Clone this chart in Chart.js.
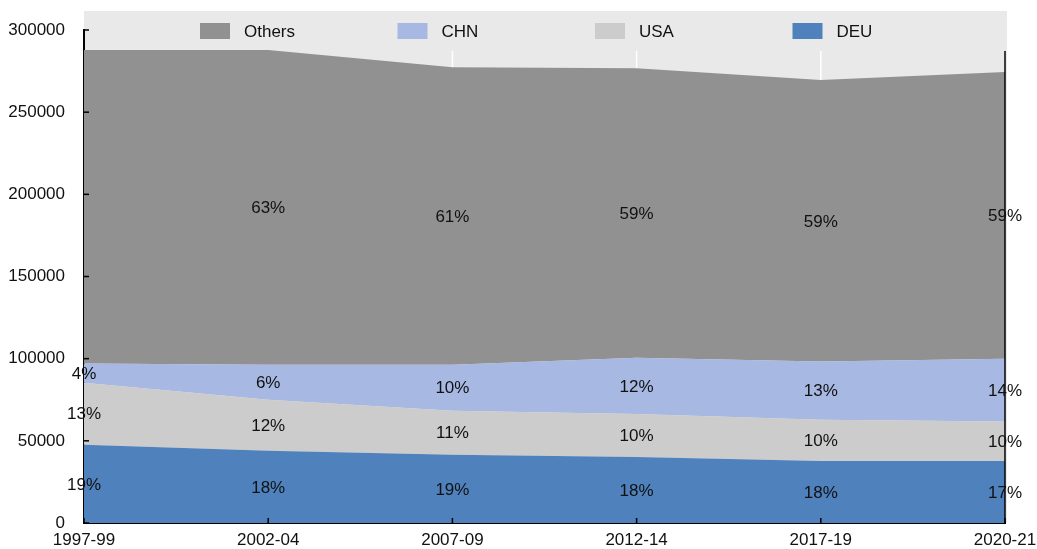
<!DOCTYPE html>
<html>
<head>
<meta charset="utf-8">
<script src="https://cdn.jsdelivr.net/npm/chart.js@4"></script>
<style>
  html, body { margin: 0; padding: 0; background: #fff; }
  #wrap { width: 1037px; height: 549px; }
</style>
</head>
<body>
<div id="wrap"><canvas id="areaChart"></canvas></div>
<script>
const periods = ['1997-99', '2002-04', '2007-09', '2012-14', '2017-19', '2020-21'];

// stacked volumes, bottom to top
const deu = [47600, 43900, 41500, 40200, 37800, 37800];
const usa = [37800, 31100, 26800, 26200, 25000, 24000];
const chn = [11600, 21300, 28000, 34100, 35400, 38200];
const others = [190800, 191500, 181100, 176200, 171300, 174400];

// shares printed inside each band (%)
const deuShare = [19, 18, 19, 18, 18, 17];
const usaShare = [13, 12, 11, 10, 10, 10];
const chnShare = [4, 6, 10, 12, 13, 14];
const othersShare = [null, 63, 61, 59, 59, 59];

const yTicks = [0, 50000, 100000, 150000, 200000, 250000, 300000];

const FONT = 'Arial, "Liberation Sans", sans-serif';
const FONT_SIZE = 17;

const series = [
  { label: 'DEU', data: deu, share: deuShare, color: '#4f81bd' },
  { label: 'USA', data: usa, share: usaShare, color: '#cccccc' },
  { label: 'CHN', data: chn, share: chnShare, color: '#a7b8e2' },
  { label: 'Others', data: others, share: othersShare, color: '#919191' }
];

// grey panel, white period lines, right frame and inward tick marks
const framePlugin = {
  id: 'frame',
  beforeDraw(chart) {
    const { ctx, chartArea: a, scales } = chart;
    ctx.save();
    ctx.fillStyle = '#e9e9e9';
    ctx.fillRect(a.left, 11, a.right - a.left + 2, a.bottom - 11);
    ctx.strokeStyle = '#ffffff';
    ctx.lineWidth = 1.5;
    scales.x.ticks.forEach((t, i) => {
      const x = scales.x.getPixelForTick(i);
      ctx.beginPath();
      ctx.moveTo(x, 51);
      ctx.lineTo(x, a.bottom);
      ctx.stroke();
    });
    ctx.restore();
  },
  afterDatasetsDraw(chart) {
    const { ctx, chartArea: a, scales } = chart;
    ctx.save();
    ctx.strokeStyle = '#000';
    ctx.lineWidth = 1.5;
    ctx.beginPath();
    ctx.moveTo(a.right, 51);
    ctx.lineTo(a.right, a.bottom);
    ctx.stroke();
    scales.y.ticks.forEach(t => {
      const y = scales.y.getPixelForValue(t.value);
      ctx.beginPath();
      ctx.moveTo(a.left, y);
      ctx.lineTo(a.left + 5, y);
      ctx.stroke();
    });
    scales.x.ticks.forEach((t, i) => {
      const x = scales.x.getPixelForTick(i);
      ctx.beginPath();
      ctx.moveTo(x, a.bottom);
      ctx.lineTo(x, a.bottom - 5);
      ctx.stroke();
    });
    ctx.restore();
  }
};

// percentage labels centred in each band
const shareLabels = {
  id: 'shareLabels',
  afterDatasetsDraw(chart) {
    const { ctx, scales } = chart;
    ctx.save();
    ctx.font = FONT_SIZE + 'px ' + FONT;
    ctx.fillStyle = '#111';
    ctx.textAlign = 'center';
    ctx.textBaseline = 'middle';
    chart.data.datasets.forEach((ds, di) => {
      const meta = chart.getDatasetMeta(di);
      const below = di > 0 ? chart.getDatasetMeta(di - 1) : null;
      meta.data.forEach((pt, i) => {
        const v = ds.share[i];
        if (v == null) return;
        const base = below ? below.data[i].y : scales.y.getPixelForValue(0);
        ctx.fillText(v + '%', pt.x, (pt.y + base) / 2 + 1);
      });
    });
    ctx.restore();
  }
};

// legend row inside the top of the grey panel
const topLegend = {
  id: 'topLegend',
  afterDraw(chart) {
    const { ctx, chartArea: a } = chart;
    const items = chart.data.datasets.slice().reverse();
    ctx.save();
    ctx.font = FONT_SIZE + 'px ' + FONT;
    ctx.textBaseline = 'middle';
    ctx.textAlign = 'left';
    items.forEach((ds, i) => {
      const x = a.left + 116 + i * 197.5;
      ctx.fillStyle = ds.backgroundColor;
      ctx.fillRect(x, 23, 30, 16);
      ctx.fillStyle = '#111';
      ctx.fillText(ds.label, x + 44, 32);
    });
    ctx.restore();
  }
};

new Chart(document.getElementById('areaChart'), {
  type: 'line',
  data: {
    labels: periods,
    datasets: series.map((s, i) => ({
      label: s.label,
      data: s.data,
      share: s.share,
      backgroundColor: s.color,
      borderWidth: 0,
      pointRadius: 0,
      tension: 0,
      fill: i === 0 ? 'origin' : '-1'
    }))
  },
  options: {
    responsive: true,
    maintainAspectRatio: false,
    animation: false,
    layout: { padding: { left: 0, right: 0, top: 30, bottom: 0 } },
    plugins: {
      legend: { display: false },
      tooltip: { enabled: false }
    },
    scales: {
      x: {
        offset: false,
        afterFit: scale => {
          scale.height = 26;
          scale.paddingLeft = 0;
          scale.paddingRight = 32;
        },
        grid: { display: false, drawTicks: false },
        border: { display: true, color: '#000', width: 2 },
        ticks: { color: '#111', padding: 7, maxRotation: 0, font: { size: FONT_SIZE, family: FONT } }
      },
      y: {
        stacked: true,
        min: 0,
        max: 300000,
        afterBuildTicks: scale => { scale.ticks = yTicks.map(v => ({ value: v })); },
        afterFit: scale => {
          scale.width = 84;
          scale.paddingTop = 0;
          scale.paddingBottom = 0;
        },
        grid: { display: false, drawTicks: false },
        border: { display: true, color: '#000', width: 2 },
        ticks: {
          color: '#111',
          padding: 19,
          font: { size: FONT_SIZE, family: FONT },
          callback: v => String(v)
        }
      }
    }
  },
  plugins: [framePlugin, shareLabels, topLegend]
});
</script>
</body>
</html>
